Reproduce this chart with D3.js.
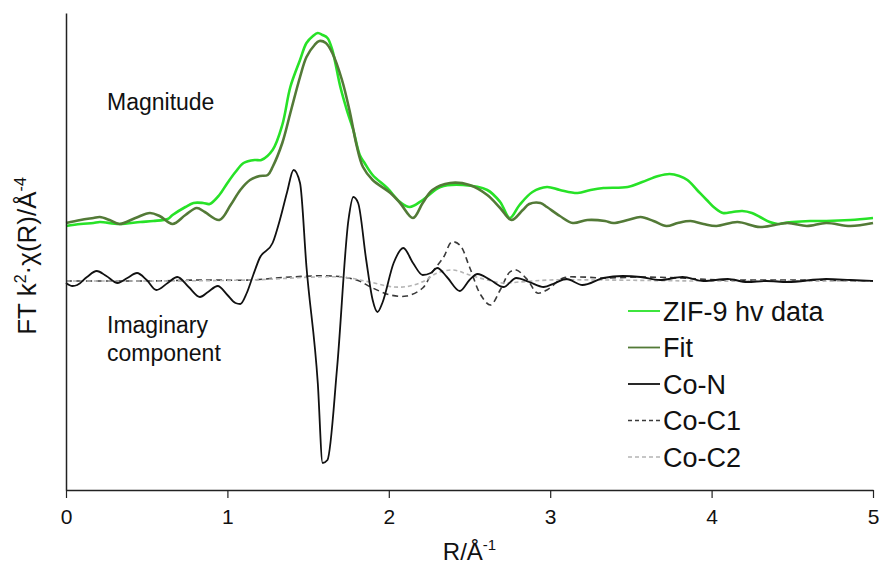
<!DOCTYPE html>
<html>
<head>
<meta charset="utf-8">
<script src="https://cdn.jsdelivr.net/npm/d3@7"></script>
<style>
  body { margin: 0; background: #fff; }
  text { font-family: "Liberation Sans", Arial, sans-serif; }
</style>
</head>
<body>
<script>
// R values (Å) and FT amplitudes (arbitrary units)

var dataR = [0.00, 0.09, 0.17, 0.21, 0.33, 0.46, 0.54, 0.63, 0.66, 0.74, 0.79, 0.85, 0.89, 0.95, 1.00, 1.05, 1.10, 1.17, 1.21, 1.28, 1.34, 1.39, 1.45, 1.49, 1.53, 1.56, 1.59, 1.62, 1.65, 1.70, 1.74, 1.78, 1.82, 1.85, 1.90, 1.99, 2.07, 2.13, 2.21, 2.32, 2.46, 2.61, 2.69, 2.75, 2.81, 2.89, 2.98, 3.06, 3.17, 3.25, 3.33, 3.48, 3.57, 3.67, 3.74, 3.80, 3.85, 3.91, 3.97, 4.02, 4.07, 4.13, 4.19, 4.25, 4.30, 4.36, 4.41, 4.45, 4.50, 4.61, 4.71, 4.86, 5.00];
var dataY = [5.5, 5.7, 5.8, 5.9, 5.7, 5.9, 6.0, 6.2, 6.6, 7.4, 7.8, 7.8, 7.7, 8.6, 9.8, 10.9, 11.8, 12.1, 12.1, 13.1, 15.6, 19.4, 22.1, 23.8, 24.5, 24.8, 24.6, 24.3, 23.1, 19.4, 17.1, 15.1, 12.6, 11.8, 10.6, 9.3, 7.9, 7.4, 8.1, 9.4, 9.6, 9.1, 7.9, 6.3, 7.6, 8.9, 9.4, 9.1, 8.8, 9.1, 9.3, 9.4, 9.9, 10.5, 10.7, 10.5, 10.1, 9.1, 8.1, 7.3, 6.8, 6.9, 7.0, 6.8, 6.4, 5.9, 5.7, 5.8, 5.9, 6.0, 6.0, 6.1, 6.3];

var fitR = [0.00, 0.09, 0.17, 0.21, 0.27, 0.33, 0.43, 0.52, 0.58, 0.66, 0.74, 0.81, 0.86, 0.95, 1.02, 1.08, 1.14, 1.20, 1.25, 1.28, 1.34, 1.39, 1.45, 1.49, 1.54, 1.57, 1.61, 1.65, 1.71, 1.76, 1.80, 1.84, 1.90, 2.01, 2.07, 2.15, 2.21, 2.27, 2.38, 2.50, 2.61, 2.69, 2.76, 2.83, 2.87, 2.94, 2.98, 3.06, 3.14, 3.23, 3.34, 3.39, 3.48, 3.56, 3.64, 3.72, 3.79, 3.87, 3.95, 4.03, 4.16, 4.30, 4.47, 4.59, 4.71, 4.86, 5.00];
var fitY = [5.8, 6.1, 6.3, 6.4, 6.1, 5.7, 6.3, 6.8, 6.5, 5.7, 6.6, 7.3, 6.9, 6.1, 7.6, 9.1, 10.1, 10.5, 10.6, 11.4, 13.8, 16.8, 20.4, 22.4, 23.6, 24.0, 23.8, 22.8, 20.1, 16.8, 13.6, 11.4, 10.1, 8.8, 7.8, 6.3, 7.8, 9.1, 9.8, 9.6, 8.6, 7.3, 6.1, 7.1, 7.7, 7.8, 7.4, 6.5, 5.8, 6.1, 6.0, 5.8, 6.1, 6.4, 6.0, 5.5, 5.8, 6.0, 5.7, 5.5, 5.9, 5.4, 5.8, 5.5, 5.8, 5.5, 5.8];

var coNR = [0.00, 0.04, 0.07, 0.13, 0.19, 0.25, 0.32, 0.38, 0.44, 0.50, 0.56, 0.63, 0.69, 0.76, 0.83, 0.88, 0.94, 1.00, 1.05, 1.08, 1.12, 1.16, 1.20, 1.28, 1.33, 1.37, 1.41, 1.45, 1.49, 1.56, 1.59, 1.62, 1.68, 1.75, 1.78, 1.81, 1.86, 1.90, 1.93, 1.96, 2.03, 2.09, 2.15, 2.21, 2.26, 2.30, 2.36, 2.44, 2.50, 2.55, 2.63, 2.71, 2.79, 2.87, 2.96, 3.03, 3.10, 3.20, 3.33, 3.45, 3.56, 3.68, 3.82, 3.95, 4.10, 4.22, 4.34, 4.47, 4.71, 4.86, 5.00];
var coNY = [-0.2, -0.5, -0.4, 0.4, 1.0, 0.5, -0.2, 0.3, 0.8, 0.1, -0.9, -0.2, 0.4, -0.6, -1.6, -1.1, -0.5, -1.4, -2.2, -2.3, -1.2, 0.6, 2.3, 3.8, 6.4, 8.9, 11.1, 9.8, 1.4, -10.2, -18.2, -17.9, -8.6, 6.1, 8.4, 7.8, 2.1, -1.9, -3.1, -2.2, 1.8, 3.3, 1.8, 0.6, 0.8, 1.3, 0.4, -1.0, 0.1, 0.7, 0.1, -0.6, 0.3, -0.1, -0.6, -0.2, 0.2, -0.4, 0.3, 0.5, 0.4, 0.1, 0.4, 0.0, 0.2, -0.1, 0.0, -0.1, 0.2, 0.1, 0.0];

var coC1R = [0.00, 0.21, 0.52, 0.83, 1.14, 1.39, 1.65, 1.80, 1.90, 2.01, 2.11, 2.21, 2.27, 2.34, 2.39, 2.44, 2.50, 2.57, 2.63, 2.69, 2.75, 2.79, 2.86, 2.92, 2.98, 3.08, 3.18, 3.33, 3.56, 3.80, 4.05, 4.30, 4.55, 5.00];
var coC1Y = [0.0, 0.0, 0.0, 0.1, 0.1, 0.4, 0.5, 0.1, -0.7, -1.4, -1.5, -0.7, 0.9, 2.4, 3.9, 3.6, 1.4, -1.4, -2.4, -0.9, 0.9, 1.1, 0.1, -1.2, -0.9, 0.3, 0.4, 0.3, 0.4, 0.3, 0.1, 0.1, 0.1, 0.0];

var coC2R = [0.00, 0.52, 1.14, 1.70, 1.88, 2.03, 2.13, 2.22, 2.30, 2.40, 2.50, 2.61, 2.71, 2.81, 3.00, 3.31, 3.93, 5.00];
var coC2Y = [0.0, 0.0, 0.1, 0.4, -0.1, -0.6, -0.5, 0.0, 0.8, 1.1, 0.6, 0.1, -0.2, -0.1, 0.1, 0.1, 0.0, 0.0];

var xTicks = [0, 1, 2, 3, 4, 5];
var seriesNames = ["ZIF-9 hv data", "Fit", "Co-N", "Co-C1", "Co-C2"];


renderChart();


function renderChart() {

    //Size and margins
    var width = 882;
    var height = 572;
    margin = { top: 13, right: 9, bottom: 82, left: 66 };

    var svg = d3.select("body")
        .append("svg")
        .attr("width", width)
        .attr("height", height);

    //Scales
    var xScale = d3.scaleLinear()
        .domain([0, 5])
        .range([margin.left, width - margin.right]);
    var yScale = d3.scaleLinear()
        .domain([-20.9, 26.8])
        .range([height - margin.bottom, margin.top]);

    //Series, style per line
    var series = [
        { name: seriesNames[3], r: coC1R, y: coC1Y, color: "#3a3a3a", width: 1.6, dash: "6,4", curve: d3.curveCatmullRom },
        { name: seriesNames[4], r: coC2R, y: coC2Y, color: "#b4b4b4", width: 1.6, dash: "4,3", curve: d3.curveCatmullRom },
        { name: seriesNames[2], r: coNR, y: coNY, color: "#111111", width: 1.8, dash: null, curve: d3.curveMonotoneX },
        { name: seriesNames[0], r: dataR, y: dataY, color: "#27e227", width: 2.6, dash: null, curve: d3.curveCatmullRom },
        { name: seriesNames[1], r: fitR, y: fitY, color: "#537a37", width: 2.6, dash: null, curve: d3.curveCatmullRom }
    ];

    var line = d3.line()
        .x(d => xScale(d[0]))
        .y(d => yScale(d[1]));

    svg.append("g")
        .selectAll("path")
        .data(series)
        .join("path")
        .attr("fill", "none")
        .attr("stroke", d => d.color)
        .attr("stroke-width", d => d.width)
        .attr("stroke-dasharray", d => d.dash)
        .attr("stroke-linejoin", "round")
        .attr("d", d => line.curve(d.curve)(d.r.map((r, i) => [r, d.y[i]])));

    //Axes
    svg.append("g")
        .attr("transform", `translate(0,${height - margin.bottom})`)
        .call(d3.axisBottom(xScale).tickValues(xTicks).tickFormat(d3.format("d")).tickSize(8).tickSizeOuter(0).tickPadding(11))
        .call(g => g.select(".domain").attr("stroke", "#222").attr("stroke-width", 1.5))
        .call(g => g.selectAll(".tick line").attr("stroke", "#222").attr("stroke-width", 1.2))
        .call(g => g.selectAll(".tick text")
            .attr("font-family", "'Liberation Sans', Arial, sans-serif")
            .attr("font-size", 21)
            .attr("fill", "#111"));

    svg.append("g")
        .attr("transform", `translate(${margin.left},0)`)
        .call(d3.axisLeft(yScale).ticks(0).tickSize(0).tickSizeOuter(0))
        .call(g => g.selectAll(".tick").remove())
        .call(g => g.select(".domain").attr("stroke", "#222").attr("stroke-width", 1.5));

    //Axis titles
    var xTitle = svg.append("text")
        .attr("x", xScale(2.5))
        .attr("y", 560)
        .attr("text-anchor", "middle")
        .attr("font-size", 24)
        .attr("fill", "#111");
    xTitle.append("tspan").text("R/Å");
    xTitle.append("tspan").attr("dy", -10).attr("font-size", 15).text("-1");

    var yTitle = svg.append("text")
        .attr("transform", "translate(36,256) rotate(-90)")
        .attr("text-anchor", "middle")
        .attr("font-size", 26)
        .attr("fill", "#111");
    yTitle.append("tspan").text("FT k");
    yTitle.append("tspan").attr("dy", -10).attr("font-size", 16).text("2");
    yTitle.append("tspan").attr("dy", 10).text("·χ(R)/Å");
    yTitle.append("tspan").attr("dy", -10).attr("font-size", 16).text("-4");

    //Annotations
    svg.append("text")
        .attr("x", 107).attr("y", 110)
        .attr("font-size", 23).attr("fill", "#111")
        .text("Magnitude");
    svg.append("text")
        .attr("x", 107).attr("y", 333)
        .attr("font-size", 23).attr("fill", "#111")
        .text("Imaginary");
    svg.append("text")
        .attr("x", 107).attr("y", 361)
        .attr("font-size", 23).attr("fill", "#111")
        .text("component");

    //Legend
    var legendOrder = [3, 4, 2, 0, 1].map(i => series[i]);
    var legend = svg.append("g")
        .selectAll("g")
        .data(legendOrder)
        .join("g")
        .attr("transform", (d, i) => `translate(628,${311 + i * 36.5})`);

    legend.append("line")
        .attr("x1", 0).attr("x2", 32)
        .attr("stroke", d => d.color)
        .attr("stroke-width", d => Math.min(d.width, 1.8))
        .attr("stroke-dasharray", d => d.dash ? "4,3" : null);

    legend.append("text")
        .attr("x", 35)
        .attr("dy", "0.36em")
        .attr("font-size", 27)
        .attr("fill", "#111")
        .text(d => d.name);
}
</script>
</body>
</html>
